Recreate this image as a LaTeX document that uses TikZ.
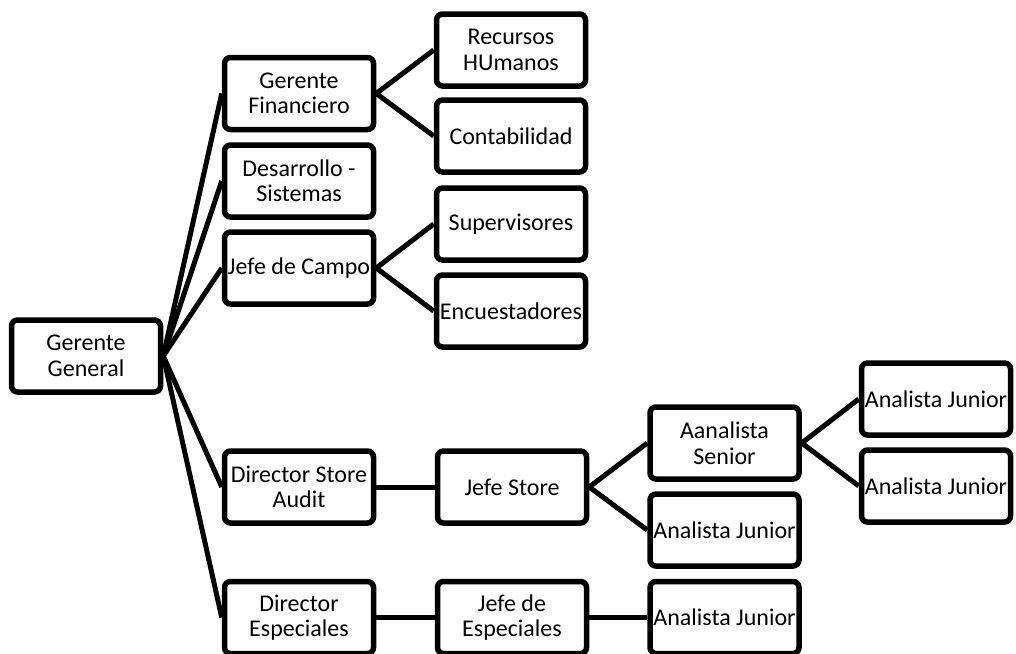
\documentclass[tikz,border=0pt]{standalone}
\usepackage{fontspec}
\setmainfont{Carlito}
\usepackage{tikz}
\usetikzlibrary{positioning,calc}
\tikzset{
    caja/.style={draw, line width=5.5pt, rounded corners=6pt, fill=white,
        minimum width=149pt, minimum height=72pt, inner sep=0pt, align=center,
        font=\fontsize{24}{25.5}\selectfont},
    linea/.style={line width=5pt}
}

\begin{document}
\begin{tikzpicture}[x=1pt,y=-1pt]
    \useasboundingbox (0,0) rectangle (1016,653);
    \node[caja] (GG) at (86,356) {Gerente\\General};
    \node[caja] (GF) at (299,93.5) {Gerente\\Financiero};
    \node[caja] (DS) at (299,181) {Desarrollo -\\Sistemas};
    \node[caja] (JC) at (299,268) {Jefe de Campo};
    \node[caja] (DSA) at (299,487) {Director Store\\Audit};
    \node[caja] (DE) at (299,617.5) {Director\\Especiales};
    \node[caja] (RH) at (511,50) {Recursos\\HUmanos};
    \node[caja] (CO) at (511,136) {Contabilidad};
    \node[caja] (SU) at (511,224) {Supervisores};
    \node[caja] (EN) at (511,311) {Encuestadores};
    \node[caja] (JS) at (512,487) {Jefe Store};
    \node[caja] (JE) at (512,617.5) {Jefe de\\Especiales};
    \node[caja] (AS) at (724.5,443) {Aanalista\\Senior};
    \node[caja] (AJa) at (724.5,530) {Analista Junior};
    \node[caja] (AJb) at (724.5,617.5) {Analista Junior};
    \node[caja] (AJc) at (936,399) {Analista Junior};
    \node[caja] (AJd) at (936,486) {Analista Junior};
    % conexiones
    \foreach \hijo in {GF,DS,JC,DSA,DE}
        \draw[linea] (GG.east) -- (\hijo.west);
    \foreach \hijo in {RH,CO}
        \draw[linea] (GF.east) -- (\hijo.west);
    \foreach \hijo in {SU,EN}
        \draw[linea] (JC.east) -- (\hijo.west);
    \draw[linea] (DSA.east) -- (JS.west);
    \draw[linea] (DE.east) -- (JE.west);
    \draw[linea] (JE.east) -- (AJb.west);
    \foreach \hijo in {AS,AJa}
        \draw[linea] (JS.east) -- (\hijo.west);
    \foreach \hijo in {AJc,AJd}
        \draw[linea] (AS.east) -- (\hijo.west);
\end{tikzpicture}
\end{document}
